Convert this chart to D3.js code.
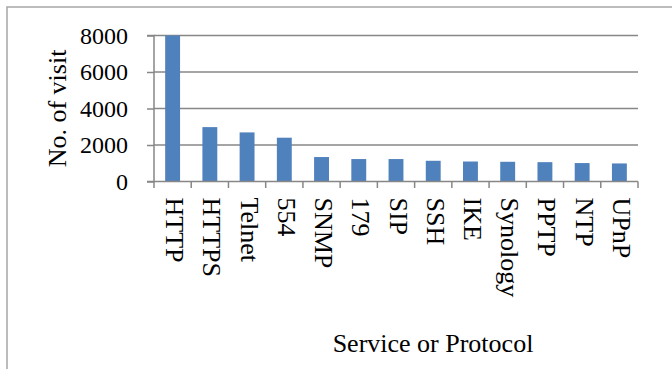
<!DOCTYPE html>
<html><head><meta charset="utf-8">
<script src="https://cdn.jsdelivr.net/npm/d3@7"></script>
<style>html,body{margin:0;padding:0;background:#fff;}</style>
</head><body>
<svg id="c" width="672" height="369"></svg>
<script>
const categories = ["HTTP","HTTPS","Telnet","554","SNMP","179","SIP","SSH","IKE","Synology","PPTP","NTP","UPnP"];
const visits = [8000,2980,2690,2400,1340,1230,1230,1135,1095,1080,1060,1010,990];
const yTicks = [0,2000,4000,6000,8000];
const yTitle = "No. of visit";
const xTitle = "Service or Protocol";

const svg = d3.select("#c");
const font = "'Liberation Serif','Times New Roman',serif";
const m = {left:154, right:638, top:35.5, bottom:181.5};

// outer frame
svg.append("path").attr("d","M7,369 V7 H672").attr("fill","none").attr("stroke","#a6a6a6").attr("stroke-width",1.5);

const x = d3.scaleBand().domain(categories).range([m.left,m.right]).paddingInner(0.6).paddingOuter(0.3);
const y = d3.scaleLinear().domain([0,8000]).range([m.bottom,m.top]);

// gridlines
svg.append("g").selectAll("line").data(yTicks.filter(d=>d>0)).join("line")
  .attr("x1",m.left).attr("x2",m.right).attr("y1",d=>y(d)).attr("y2",d=>y(d))
  .attr("stroke","#878787").attr("stroke-width",1.5);

// bars
svg.append("g").selectAll("rect").data(categories).join("rect")
  .attr("x",d=>x(d)).attr("width",x.bandwidth())
  .attr("y",(d,i)=>y(visits[i])).attr("height",(d,i)=>y(0)-y(visits[i]))
  .attr("fill","#4f81bd");

// y axis
const ya = svg.append("g").attr("transform",`translate(${m.left},0)`)
  .call(d3.axisLeft(y).tickValues(yTicks).tickSize(7).tickPadding(19).tickFormat(d3.format("d")));
ya.select(".domain").attr("stroke","#878787").attr("stroke-width",1.5).attr("d",`M-7,${m.bottom}H0V${m.top}H-7`);
ya.selectAll(".tick line").attr("stroke","#878787").attr("stroke-width",1.5);
ya.selectAll(".tick text").attr("font-family",font).attr("font-size",24).attr("fill","#000");

// x axis
const band = (m.right-m.left)/categories.length;
const xa = svg.append("g").attr("transform",`translate(0,${m.bottom})`)
  .call(d3.axisBottom(x).tickSize(0).tickPadding(0));
xa.select(".domain").attr("stroke","#878787").attr("stroke-width",1.5).attr("d",`M${m.left},0H${m.right}`);
svg.append("g").selectAll("line").data(d3.range(categories.length+1)).join("line")
  .attr("x1",i=>m.left+i*band).attr("x2",i=>m.left+i*band)
  .attr("y1",m.bottom).attr("y2",m.bottom+6.5)
  .attr("stroke","#878787").attr("stroke-width",1.5);
xa.selectAll(".tick text")
  .attr("font-family",font).attr("font-size",26).attr("fill","#000")
  .attr("transform","rotate(90)").attr("text-anchor","start")
  .attr("x",16).attr("y",0).attr("dy","0.25em");

// titles
svg.append("text").attr("transform","translate(66,108.5) rotate(-90)")
  .attr("text-anchor","middle").attr("font-family",font).attr("font-size",26).text(yTitle);
svg.append("text").attr("x",433).attr("y",352)
  .attr("text-anchor","middle").attr("font-family",font).attr("font-size",26).text(xTitle);
</script>
</body></html>
